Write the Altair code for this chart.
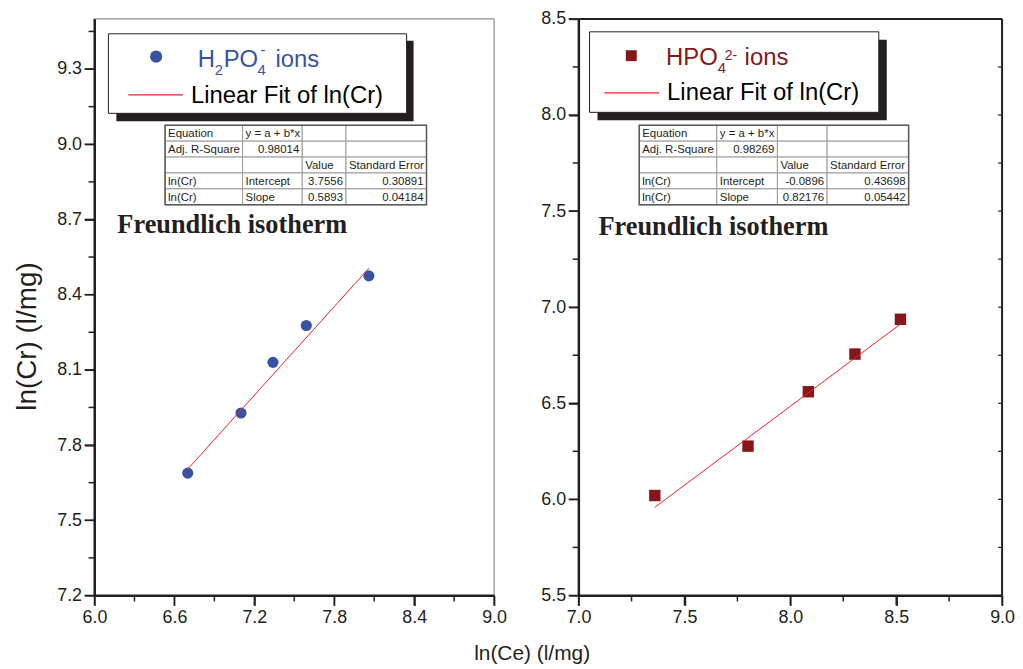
import altair as alt
import pandas as pd

# ---------------- data ----------------
h2po4_ln_ce = [6.70, 7.10, 7.34, 7.59, 8.06]
h2po4_ln_cr = [7.688, 7.928, 8.130, 8.277, 8.475]
hpo4_ln_ce = [7.36, 7.80, 8.085, 8.305, 8.52]
hpo4_ln_cr = [6.020, 6.277, 6.560, 6.756, 6.937]

# linear fit results (intercept, slope) as given in the tables
fit_h2po4 = [3.7556, 0.5893]
fit_hpo4 = [-0.0896, 0.82176]

table_h2po4 = [
    ["Equation", "y = a + b*x", "", ""],
    ["Adj. R-Square", "0.98014", "", ""],
    ["", "", "Value", "Standard Error"],
    ["ln(Cr)", "Intercept", "3.7556", "0.30891"],
    ["ln(Cr)", "Slope", "0.5893", "0.04184"],
]
table_hpo4 = [
    ["Equation", "y = a + b*x", "", ""],
    ["Adj. R-Square", "0.98269", "", ""],
    ["", "", "Value", "Standard Error"],
    ["ln(Cr)", "Intercept", "-0.0896", "0.43698"],
    ["ln(Cr)", "Slope", "0.82176", "0.05442"],
]

# tick values
left_x_major = [6.0, 6.6, 7.2, 7.8, 8.4, 9.0]
left_x_minor = [6.3, 6.9, 7.5, 8.1, 8.7]
left_y_major = [7.2, 7.5, 7.8, 8.1, 8.4, 8.7, 9.0, 9.3]
left_y_minor = [7.35, 7.65, 7.95, 8.25, 8.55, 8.85, 9.15, 9.45]
right_x_major = [7.0, 7.5, 8.0, 8.5, 9.0]
right_x_minor = [7.25, 7.75, 8.25, 8.75]
right_y_major = [5.5, 6.0, 6.5, 7.0, 7.5, 8.0, 8.5]
right_y_minor = [5.75, 6.25, 6.75, 7.25, 7.75, 8.25]

INK = "#231f20"
FONT = "Liberation Sans"
RED = "#e8202a"
BLUE = "#3953a4"
DARKRED = "#861619"

ONE = pd.DataFrame({"k": [0]})


def major_axis(values, orient, title=None):
    kw = dict(values=values, orient=orient, format=".1f", tickSize=10,
              tickWidth=1.5, tickColor=INK, domainColor=INK, domainWidth=2,
              labelFont=FONT, labelFontSize=18, labelColor=INK,
              labelPadding=3, labelFlush=False, grid=False)
    if title:
        kw.update(title=title, titleFont=FONT, titleFontSize=28,
                  titleFontWeight="normal", titleColor=INK, titlePadding=15,
                  titleY=319)
    else:
        kw["title"] = None
    return alt.Axis(**kw)


def is_num(s):
    try:
        float(s)
        return True
    except ValueError:
        return False


def vrule(x0, x1, y0, y1, color=INK, w=2):
    return alt.Chart(ONE).mark_rule(color=color, strokeWidth=w).encode(
        x=alt.value(x0), x2=alt.value(x1), y=alt.value(y0), y2=alt.value(y1))


def panel(xs, ys, fit, table, xdom, ydom, xmaj, xmin, ymaj, ymin, W, H,
          color, shape, psize, geo, ytitle, right_ticks, frame):
    xsc = alt.Scale(domain=xdom, nice=False, zero=False)
    ysc = alt.Scale(domain=ydom, nice=False, zero=False)
    pts = pd.DataFrame({"x": xs, "y": ys})

    # frame (top and right border) and axis lines
    layers = [
        vrule(0, W, 0, 0, frame[0], frame[1]),
        vrule(W, W, 0, H, frame[0], frame[1]),
        vrule(0, 0, 0, H, INK, 2),
        vrule(0, W, H, H, INK, 2),
    ]

    points = alt.Chart(pts).mark_point(
        shape=shape, filled=True, size=psize, color=color, opacity=1
    ).encode(
        x=alt.X("x:Q", scale=xsc, axis=major_axis(xmaj, "bottom")),
        y=alt.Y("y:Q", scale=ysc, axis=major_axis(ymaj, "left", ytitle)),
    )
    x0, x1 = min(xs), max(xs)
    fitdf = pd.DataFrame({"x": [x0, x1],
                          "y": [fit[0] + fit[1] * x0, fit[0] + fit[1] * x1]})
    line = alt.Chart(fitdf).mark_line(color=RED, strokeWidth=1).encode(
        x=alt.X("x:Q", scale=xsc), y=alt.Y("y:Q", scale=ysc))
    layers += [points, line]

    # major and minor ticks
    for vals, ln in ((xmaj, 10), (xmin, 6)):
        d = pd.DataFrame({"v": vals})
        layers.append(alt.Chart(d).mark_rule(color=INK, strokeWidth=1.5).encode(
            x=alt.X("v:Q", scale=xsc), y=alt.value(H), y2=alt.value(H + ln)))
    for vals, ln in ((ymaj, 10), (ymin, 6)):
        d = pd.DataFrame({"v": vals})
        layers.append(alt.Chart(d).mark_rule(color=INK, strokeWidth=1.5).encode(
            y=alt.Y("v:Q", scale=ysc), x=alt.value(-ln), x2=alt.value(0)))
    if right_ticks:
        ya = pd.DataFrame({"v": ymaj + ymin})
        layers.append(alt.Chart(ya).mark_rule(color=INK, strokeWidth=1.2).encode(
            y=alt.Y("v:Q", scale=ysc), x=alt.value(W - 4), x2=alt.value(W)))

    # legend box with shadow
    sx0, sy0, sx1, sy1 = geo["shadow"]
    bx0, by0, bx1, by1 = geo["box"]
    shadow = alt.Chart(ONE).mark_rect(color="#231f20").encode(
        x=alt.value(sx0), x2=alt.value(sx1), y=alt.value(sy0), y2=alt.value(sy1))
    box = alt.Chart(ONE).mark_rect(fill="white", stroke=INK, strokeWidth=1).encode(
        x=alt.value(bx0), x2=alt.value(bx1), y=alt.value(by0), y2=alt.value(by1))
    mx, my, msize = geo["marker"]
    marker = alt.Chart(ONE).mark_point(
        shape=shape, filled=True, size=msize, color=color, opacity=1
    ).encode(x=alt.value(mx), y=alt.value(my))
    lx0, lx1, ly = geo["legline"]
    legline = vrule(lx0, lx1, ly, ly, RED, 1.2)
    tdf = pd.DataFrame(geo["texts"], columns=["px", "py", "t", "fs", "c"])
    legtext = alt.Chart(tdf).mark_text(
        align="left", baseline="alphabetic", font=FONT
    ).encode(
        x=alt.X("px:Q", scale=None, axis=None),
        y=alt.Y("py:Q", scale=None, axis=None),
        text="t:N",
        size=alt.Size("fs:Q", scale=None, legend=None),
        color=alt.Color("c:N", scale=None, legend=None),
    )
    layers += [shadow, box, marker, legline, legtext]

    # results table
    xe = geo["tx"]
    ty = geo["ty"]
    rh = 16
    cells, tl, tr = [], [], []
    for r, row in enumerate(table):
        for c, val in enumerate(row):
            cx0, cx1 = xe[c], xe[c + 1]
            cy0 = ty + r * rh
            cells.append({"x": cx0, "x2": cx1, "y": cy0, "y2": cy0 + rh})
            if val:
                if is_num(val):
                    tr.append({"px": cx1 - 3, "py": cy0 + 12, "t": val})
                else:
                    tl.append({"px": cx0 + 3, "py": cy0 + 12, "t": val})
    cdf = pd.DataFrame(cells)
    cellm = alt.Chart(cdf).mark_rect(fill="white", stroke="#9a9a9a", strokeWidth=1).encode(
        x=alt.X("x:Q", scale=None, axis=None), x2="x2:Q",
        y=alt.Y("y:Q", scale=None, axis=None), y2="y2:Q")
    outer = alt.Chart(ONE).mark_rect(fill=None, stroke="#5a5a5a", strokeWidth=1.5).encode(
        x=alt.value(xe[0]), x2=alt.value(xe[-1]), y=alt.value(ty),
        y2=alt.value(ty + rh * len(table)))
    layers += [cellm, outer]
    for rows, al in ((tl, "left"), (tr, "right")):
        d = pd.DataFrame(rows)
        layers.append(alt.Chart(d).mark_text(
            align=al, baseline="alphabetic", font=FONT, fontSize=11.5, color=INK
        ).encode(x=alt.X("px:Q", scale=None, axis=None),
                 y=alt.Y("py:Q", scale=None, axis=None), text="t:N"))

    fx, fy = geo["freund"]
    freund = alt.Chart(ONE).mark_text(
        align="left", baseline="alphabetic", font="Liberation Serif",
        fontWeight="bold", fontSize=26.5, color=INK
    ).encode(x=alt.value(fx), y=alt.value(fy), text=alt.value("Freundlich isotherm"))
    layers.append(freund)

    return alt.layer(*layers).properties(width=W, height=H)


geo_left = {
    "shadow": (22, 22, 321, 103),
    "box": (14, 15, 314, 95),
    "marker": (62, 38, 150),
    "legline": (34, 89, 76.5),
    "texts": [
        (104, 48, "H", 24, BLUE),
        (121, 56, "2", 15, BLUE),
        (130, 48, "PO", 24, BLUE),
        (164, 56, "4", 15, BLUE),
        (167, 36, "-", 15, BLUE),
        (182, 48, "ions", 24, BLUE),
        (97, 85, "Linear Fit of ln(Cr)", 24, "#000000"),
    ],
    "tx": [71, 149, 209, 253, 334],
    "ty": 107,
    "freund": (23, 215),
}
geo_right = {
    "shadow": (19, 21, 310, 102),
    "box": (11, 13, 302, 94),
    "marker": (53, 37, 120),
    "legline": (26, 81, 74.5),
    "texts": [
        (88, 46, "HPO", 24, DARKRED),
        (140, 54, "4", 15, DARKRED),
        (147, 41, "2-", 14, DARKRED),
        (167, 46, "ions", 24, DARKRED),
        (89, 82, "Linear Fit of ln(Cr)", 24, "#000000"),
    ],
    "tx": [61, 139, 200, 250, 332],
    "ty": 107,
    "freund": (20, 217),
}

left = panel(h2po4_ln_ce, h2po4_ln_cr, fit_h2po4, table_h2po4, [6.0, 9.0], [7.2, 9.5],
             left_x_major, left_x_minor, left_y_major, left_y_minor, 402, 580,
             BLUE, "circle", 125, geo_left, "ln(Cr) (l/mg)", False, ("#8a8a8a", 1.2))
right = panel(hpo4_ln_ce, hpo4_ln_cr, fit_hpo4, table_hpo4, [7.0, 9.0], [5.5, 8.5],
              right_x_major, right_x_minor, right_y_major, right_y_minor, 426, 580,
              DARKRED, "square", 132, geo_right, None, True, (INK, 2))

chart = alt.hconcat(left, right, spacing=33).properties(
    title=alt.TitleParams("ln(Ce) (l/mg)", orient="bottom", anchor="middle",
                          dx=18, font=FONT, fontSize=21, fontWeight="normal",
                          color=INK, offset=17),
    padding={"left": 5, "top": 0, "right": 0, "bottom": 0},
).configure_view(strokeWidth=0)

chart.save("out.html", embed_options={"renderer": "svg", "actions": False})
